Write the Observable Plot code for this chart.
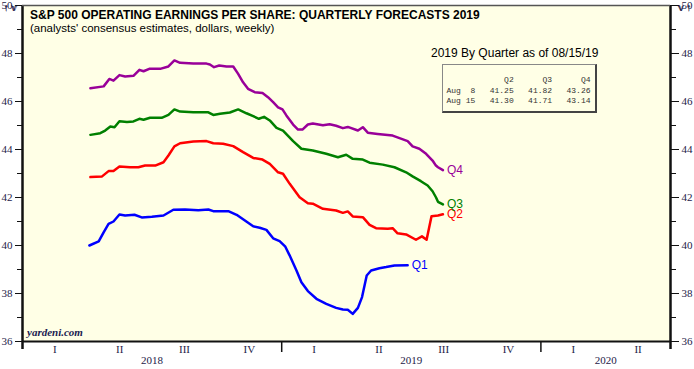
<!DOCTYPE html>
<html><head><meta charset="utf-8">
<script src="https://cdn.jsdelivr.net/npm/d3@7"></script>
<script src="https://cdn.jsdelivr.net/npm/@observablehq/plot@0.6"></script>
<style>
body{margin:0;background:#fff}
#wrap{position:relative;width:694px;height:369px;overflow:hidden}
#wrap svg{position:absolute;left:0;top:0}
.ann{position:absolute;white-space:pre;line-height:1;font-family:Arial,"Liberation Sans",sans-serif;color:#000}
</style></head><body><div id="wrap"></div>
<script>
// ---- data (x = decimal year, y = dollars per share) ----
const q1Time = [2018.258,2018.294,2018.313,2018.332,2018.351,2018.374,2018.396,2018.432,2018.460,2018.499,2018.544,2018.582,2018.627,2018.678,2018.717,2018.736,2018.794,2018.826,2018.858,2018.890,2018.915,2018.941,2018.967,2018.992,2019.014,2019.030,2019.057,2019.076,2019.101,2019.134,2019.172,2019.210,2019.236,2019.255,2019.274,2019.294,2019.310,2019.328,2019.345,2019.377,2019.403,2019.435,2019.486];
const q1Value = [40.00,40.17,40.55,40.90,41.00,41.29,41.25,41.28,41.17,41.20,41.25,41.49,41.50,41.47,41.50,41.43,41.43,41.28,41.04,40.80,40.74,40.65,40.30,40.18,39.95,39.60,38.96,38.47,38.10,37.78,37.57,37.40,37.33,37.32,37.15,37.40,37.85,38.75,38.96,39.05,39.10,39.17,39.18];

const q2Time = [2018.262,2018.307,2018.332,2018.351,2018.374,2018.415,2018.447,2018.473,2018.512,2018.544,2018.563,2018.586,2018.608,2018.659,2018.710,2018.736,2018.774,2018.813,2018.851,2018.890,2018.926,2018.954,2018.986,2019.005,2019.031,2019.069,2019.101,2019.120,2019.159,2019.210,2019.236,2019.255,2019.274,2019.313,2019.339,2019.364,2019.409,2019.428,2019.447,2019.480,2019.518,2019.541,2019.559,2019.578,2019.603,2019.622];
const q2Value = [42.85,42.88,43.10,43.10,43.29,43.26,43.26,43.33,43.33,43.47,43.75,44.13,44.26,44.33,44.35,44.26,44.24,44.14,43.89,43.65,43.58,43.40,43.05,42.99,42.57,42.01,41.76,41.74,41.53,41.46,41.36,41.42,41.21,41.18,40.86,40.72,40.70,40.72,40.51,40.46,40.24,40.38,40.24,41.22,41.25,41.30];

const q3Time = [2018.262,2018.300,2018.319,2018.339,2018.355,2018.374,2018.403,2018.428,2018.451,2018.467,2018.492,2018.537,2018.563,2018.586,2018.608,2018.659,2018.717,2018.736,2018.762,2018.800,2018.832,2018.864,2018.890,2018.912,2018.932,2018.954,2018.980,2019.005,2019.044,2019.076,2019.120,2019.172,2019.217,2019.249,2019.274,2019.313,2019.339,2019.390,2019.435,2019.480,2019.505,2019.537,2019.563,2019.582,2019.595,2019.603,2019.622];
const q3Value = [44.61,44.68,44.79,44.96,44.93,45.18,45.15,45.17,45.28,45.24,45.32,45.32,45.44,45.67,45.58,45.55,45.55,45.44,45.49,45.54,45.67,45.51,45.39,45.28,45.36,45.21,44.90,44.79,44.35,44.03,43.96,43.82,43.68,43.78,43.61,43.58,43.45,43.37,43.26,43.05,42.88,42.68,42.50,42.26,42.01,41.82,41.71];

const q4Time = [2018.262,2018.313,2018.335,2018.351,2018.374,2018.396,2018.428,2018.451,2018.467,2018.489,2018.531,2018.563,2018.586,2018.608,2018.659,2018.710,2018.723,2018.739,2018.759,2018.787,2018.813,2018.832,2018.851,2018.870,2018.896,2018.926,2018.947,2018.967,2018.986,2019.003,2019.018,2019.044,2019.063,2019.080,2019.101,2019.120,2019.159,2019.185,2019.210,2019.236,2019.255,2019.294,2019.313,2019.332,2019.370,2019.428,2019.473,2019.486,2019.505,2019.531,2019.557,2019.582,2019.595,2019.603,2019.622];
const q4Value = [46.55,46.63,46.94,46.87,47.10,47.04,47.07,47.32,47.26,47.36,47.36,47.46,47.71,47.61,47.58,47.58,47.54,47.43,47.50,47.46,47.46,47.15,46.80,46.53,46.39,46.35,46.18,45.97,45.76,45.67,45.42,45.04,44.83,44.83,45.04,45.08,45.01,45.05,44.99,44.89,44.94,44.79,44.93,44.70,44.65,44.58,44.40,44.35,44.13,44.03,43.82,43.54,43.33,43.26,43.14];

const seriesNames = ["Q1","Q2","Q3","Q4"];
const seriesColors = ["#0000ff","#ff0000","#008000","#990099"];

// axis labels
const yMajor = [36,38,40,42,44,46,48,50];
const yMinor = [37,39,41,43,45,47,49];
const quarterPos = [2018.125,2018.375,2018.625,2018.875,2019.125,2019.375,2019.625,2019.875,2020.125,2020.375];
const quarterLabels = ["I","II","III","IV","I","II","III","IV","I","II"];
const yearPos = [2018.5,2019.5,2020.25];
const yearLabels = ["2018","2019","2020"];
const yearBreaks = [2019,2020];

// table
const tableHeader = ["Q2","Q3","Q4"];
const tableDates = ["Aug  8","Aug 15"];
const tableQ2 = [41.25,41.30];
const tableQ3 = [41.82,41.71];
const tableQ4 = [43.26,43.14];

// ---- build ----
const times = [q1Time,q2Time,q3Time,q4Time];
const values = [q1Value,q2Value,q3Value,q4Value];
const rows = seriesNames.flatMap((s,i) => times[i].map((t,j) => ({s, t, v: values[i][j]})));
const lasts = seriesNames.map((s,i) => ({s, t: times[i].at(-1), v: values[i].at(-1), c: seriesColors[i]}));
const quarters = quarterPos.map((p,i) => ({p, label: quarterLabels[i]}));
const years = yearPos.map((p,i) => ({p, label: yearLabels[i]}));
const serif = "'Liberation Serif','Times New Roman',serif";
const sans = "Arial,'Liberation Sans',sans-serif";
const axisCol = "#1e2148";

const chart = Plot.plot({
  width: 694, height: 369,
  marginLeft: 22, marginRight: 24, marginTop: 5, marginBottom: 28,
  x: {domain: [2018, 2020.5], axis: null},
  y: {domain: [36, 50], axis: null},
  color: {domain: seriesNames, range: seriesColors},
  style: {background: "transparent", overflow: "visible", color: axisCol},
  marks: [
    Plot.frame({fill: "#ffffe6", stroke: null}),
    Plot.axisY(yMajor, {anchor: "left", tickSize: 7, tickPadding: 3, fontSize: 11, fontFamily: serif, stroke: "#111", fill: axisCol}),
    Plot.axisY(yMinor, {anchor: "left", tickSize: 5, text: null, stroke: "#111"}),
    Plot.axisY(yMajor, {anchor: "right", tickSize: 8, tickPadding: 3, fontSize: 11, fontFamily: serif, stroke: "#111", fill: axisCol}),
    Plot.axisY(yMinor, {anchor: "right", tickSize: 5, text: null, stroke: "#111"}),
    Plot.axisX(yearBreaks, {anchor: "bottom", tickSize: 11, text: null, stroke: "#111", strokeWidth: 1.5}),
    Plot.axisX([2018, 2020.5], {anchor: "bottom", tickSize: 8, text: null, stroke: "#111", strokeWidth: 2.5}),
    Plot.ruleX([2018, 2020.5], {stroke: "#111", strokeWidth: 2.5}),
    Plot.ruleY([36], {stroke: "#111", strokeWidth: 2}),
    Plot.ruleY([50], {stroke: "#555", strokeWidth: 1.5}),
    Plot.text(quarters, {x: "p", text: "label", frameAnchor: "bottom", dy: 11, fontSize: 11, fontFamily: serif, fill: axisCol}),
    Plot.text(years, {x: "p", text: "label", frameAnchor: "bottom", dy: 22, fontSize: 11, fontFamily: serif, fill: axisCol}),
    Plot.line(rows, {x: "t", y: "v", z: "s", stroke: "s", strokeWidth: 2.5, curve: "linear"}),
    Plot.text(lasts, {x: "t", y: "v", text: "s", fill: "c", dx: 4, textAnchor: "start", fontSize: 12, fontFamily: sans})
  ]
});
const wrap = document.getElementById("wrap");
wrap.appendChild(chart);

function ann(text, css) {
  const d = document.createElement("div");
  d.className = "ann";
  d.textContent = text;
  Object.assign(d.style, css);
  wrap.appendChild(d);
  return d;
}
ann("S&P 500 OPERATING EARNINGS PER SHARE: QUARTERLY FORECASTS 2019", {left: "30px", top: "8.5px", fontSize: "12px", fontWeight: "bold"});
ann("(analysts' consensus estimates, dollars, weekly)", {left: "30px", top: "22.5px", fontSize: "11.5px"});
ann("2019 By Quarter as of 08/15/19", {left: "431px", top: "47px", fontSize: "12px"});
const box = document.createElement("div");
Object.assign(box.style, {position: "absolute", left: "442px", top: "64px", width: "152px", height: "46px",
  borderTop: "1px solid #888", borderLeft: "1px solid #888", borderRight: "2px solid #444", borderBottom: "2px solid #444", background: "transparent"});
wrap.appendChild(box);
const lines = ["      " + tableHeader.map(h => h.padStart(8)).join("")]
  .concat(tableDates.map((d,i) => d + [tableQ2[i],tableQ3[i],tableQ4[i]].map(v => v.toFixed(2).padStart(8)).join("")));
ann(lines.join("\n"), {left: "446.5px", top: "75px", fontSize: "8px", lineHeight: "10.5px", color: "#333",
  fontFamily: "'Courier New','Liberation Mono',monospace"});
ann("yardeni.com", {left: "27px", top: "327px", fontSize: "11px", fontWeight: "bold", fontStyle: "italic", fontFamily: serif, color: "#1a1a50"});
</script></body></html>
